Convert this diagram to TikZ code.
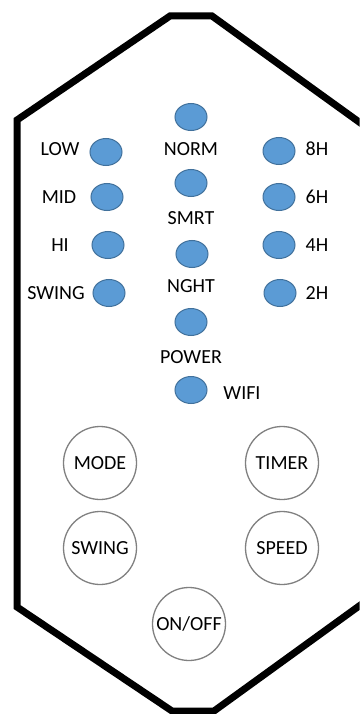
\documentclass[tikz,border=0pt]{standalone}
\usepackage{fontspec}
\setmainfont{Carlito}
\usetikzlibrary{shapes.geometric}
\definecolor{ledfill}{HTML}{5B9BD5}
\definecolor{ledline}{HTML}{41719C}
\definecolor{btnline}{HTML}{808080}
\begin{document}
\begin{tikzpicture}[x=1pt,y=-1pt,
 led/.style={ellipse, draw=ledline, fill=ledfill, line width=1pt, minimum width=32pt, minimum height=27pt, inner sep=0pt},
 lbl/.style={font=\fontsize{20}{24}\selectfont, inner sep=0pt},
 btn/.style={circle, draw=btnline, line width=1.3pt, minimum size=73pt, inner sep=0pt, font=\fontsize{20}{24}\selectfont}]
\path[fill=white] (0,0) rectangle (360,714);
\useasboundingbox (0,0) rectangle (360,714);
\begin{scope}
\clip (0,0) rectangle (359.5,714);
\draw[line width=7pt, line join=miter] (366,127) -- (212,16) -- (170,16) -- (17,120) -- (17,607) -- (172,711) -- (214,711) -- (366,601);
\end{scope}
% left column
\node[led] (dlow) at (106,152) {};
\node[led] (dmid) at (107,197) {};
\node[led] (dhi) at (108,245) {};
\node[led] (dswing) at (109,293) {};
\node[lbl] (tlow) at (60,149) {LOW};
\node[lbl] (tmid) at (59,197) {MID};
\node[lbl] (thi) at (60,245) {HI};
\node[lbl] (tswing) at (56,293) {SWING};
% centre column
\node[led] (dnorm) at (191,117) {};
\node[led] (dsmrt) at (191,183) {};
\node[led] (dnght) at (192,254) {};
\node[led] (dpower) at (191,322) {};
\node[led] (dwifi) at (191,390) {};
\node[lbl] (tnorm) at (191,149) {NORM};
\node[lbl] (tsmrt) at (191,218) {SMRT};
\node[lbl] (tnght) at (191,286) {NGHT};
\node[lbl] (tpower) at (191,357) {POWER};
\node[lbl] (twifi) at (242,393) {WIFI};
% right column
\node[led] (d8) at (279,151) {};
\node[led] (d6) at (279,197) {};
\node[led] (d4) at (279,245) {};
\node[led] (d2) at (280,293) {};
\node[lbl] (t8) at (317,149) {8H};
\node[lbl] (t6) at (317,197) {6H};
\node[lbl] (t4) at (317,245) {4H};
\node[lbl] (t2) at (317,293) {2H};
% buttons
\node[btn] (bmode) at (100,463) {MODE};
\node[btn] (btimer) at (282,463) {TIMER};
\node[btn] (bswing) at (100,548) {SWING};
\node[btn] (bspeed) at (282,548) {SPEED};
\node[btn] (bonoff) at (189,624) {ON/OFF};
\end{tikzpicture}
\end{document}
